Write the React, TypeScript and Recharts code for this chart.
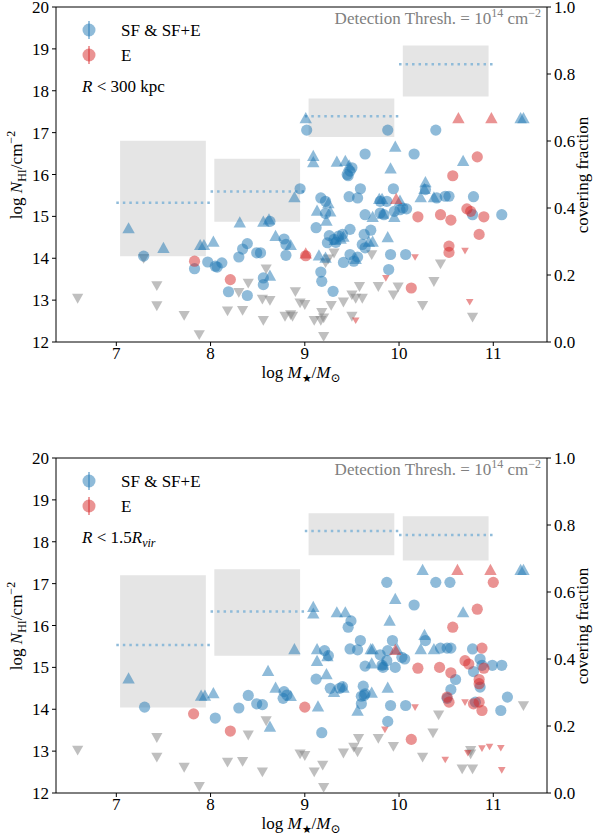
import React from "react";
import { ScatterChart, Scatter, XAxis, YAxis, ReferenceArea, ReferenceLine, Label } from "recharts";

const FONT = '"Liberation Serif", "DejaVu Serif", serif';
const BLUE = "#1f77b4";
const RED = "#d62728";
const GRAY = "#808080";
const DOT_BLUE = "#8fbbd9";

const massTicks = [7, 8, 9, 10, 11];
const nTicks = [12, 13, 14, 15, 16, 17, 18, 19, 20];
const cfTicks = [0, 0.2, 0.4, 0.6, 0.8, 1.0];

// mass bins used for the covering fraction
const binLo = [7, 8, 9, 10];
const binHi = [8, 9, 10, 11];

// top panel: R < 300 kpc
const cfTop = [0.416, 0.449, 0.674, 0.829];
const cfTopLo = [0.256, 0.359, 0.612, 0.733];
const cfTopHi = [0.601, 0.547, 0.727, 0.885];

// bottom panel: R < 1.5 Rvir
const cfBot = [0.442, 0.542, 0.782, 0.770];
const cfBotLo = [0.255, 0.410, 0.710, 0.694];
const cfBotHi = [0.650, 0.668, 0.835, 0.826];

// [log M*, log NHI]
const sfDetTop = [
  [7.29, 14.05], [7.83, 13.75], [7.97, 13.91], [8.05, 13.81], [8.07, 13.79], [8.12, 13.89], [8.19, 13.2],
  [8.39, 13.11], [8.3, 14.03], [8.34, 14.22], [8.39, 14.35], [8.49, 14.13], [8.53, 14.13], [8.63, 14.88],
  [8.56, 13.53], [8.56, 13.37], [8.78, 14.46], [8.8, 14.33], [8.8, 14.07], [8.95, 15.66], [9.02, 17.06],
  [9.88, 17.06], [10.39, 17.06], [9.64, 16.49], [10.16, 16.49], [9.5, 16.16], [9.45, 16.0], [9.46, 15.97],
  [9.48, 16.08], [9.17, 15.44], [9.22, 15.36], [9.12, 14.73], [9.22, 15.07], [9.17, 13.67], [9.18, 13.45],
  [9.3, 13.21], [9.26, 14.54], [9.24, 14.37], [9.31, 14.45], [9.36, 14.53], [9.4, 14.57], [9.33, 14.38],
  [9.48, 14.69], [9.47, 15.47], [9.56, 15.44], [9.59, 15.66], [9.8, 15.36], [9.87, 15.36], [9.94, 15.66],
  [10.04, 15.2], [10.08, 15.18], [9.64, 15.04], [9.8, 15.08], [9.84, 15.04], [9.95, 15.12], [10.01, 15.16],
  [9.63, 14.57], [9.7, 14.67], [9.61, 14.33], [9.64, 14.25], [9.48, 14.09], [9.41, 13.9], [9.52, 13.93],
  [9.56, 14.03], [9.91, 14.09], [10.07, 14.09], [9.89, 13.73], [10.79, 15.47], [11.09, 15.04], [10.78, 15.04],
  [10.53, 15.48], [10.49, 15.48], [10.4, 15.44], [10.28, 15.64],
];
const sfLowTop = [
  [7.13, 14.7], [7.5, 14.23], [7.89, 14.3], [7.93, 14.3], [8.03, 14.38], [8.31, 14.84], [8.56, 14.86],
  [8.62, 14.91], [8.63, 13.57], [8.69, 14.52], [8.85, 14.3], [8.89, 15.44], [9.01, 17.33], [9.15, 14.05],
  [9.13, 15.12], [9.25, 15.3], [9.27, 15.1], [9.23, 14.88], [9.32, 14.42], [9.38, 14.45], [9.41, 14.5],
  [9.79, 15.4], [9.82, 15.4], [10.01, 15.36], [9.72, 14.97], [9.83, 15.05], [9.95, 14.97], [9.68, 14.38],
  [9.72, 14.38], [9.22, 14.0], [9.54, 13.97], [9.88, 14.49], [10.28, 15.8], [10.27, 15.64], [10.23, 15.44],
  [10.37, 15.44], [11.29, 17.33], [11.32, 17.33], [9.09, 16.43], [9.09, 16.28], [9.96, 16.65], [9.34, 16.29],
  [9.43, 16.31], [9.47, 16.2], [9.91, 16.13], [10.68, 16.31],
];
const sfUpTop = [
  [6.59, 13.05], [7.29, 14.0], [7.43, 13.35], [7.43, 12.87], [7.72, 12.64], [7.88, 12.18], [8.18, 12.75],
  [8.34, 12.76], [8.4, 13.41], [8.3, 13.19], [8.59, 13.75], [8.55, 13.03], [8.63, 13.0], [8.56, 12.52],
  [8.9, 13.21], [8.95, 12.94], [8.79, 12.62], [8.85, 12.66], [8.87, 12.62], [9.22, 13.9], [9.18, 12.71],
  [9.2, 12.58], [9.1, 12.52], [9.2, 12.14], [9.31, 14.13], [9.25, 13.99], [9.71, 14.09], [10.44, 13.87],
  [10.37, 13.45], [10.78, 12.6], [10.25, 12.88], [9.99, 13.32], [9.94, 13.13], [9.78, 13.33], [9.58, 13.33],
  [9.5, 13.13], [9.54, 13.05], [9.61, 13.05], [9.41, 12.96], [9.28, 12.88], [9.5, 12.62], [9.0, 12.9],
  [9.17, 12.52],
];
const eDetTop = [
  [7.83, 13.93], [8.21, 13.49], [9.01, 14.06], [10.57, 15.97], [10.83, 16.42], [10.2, 14.99], [10.44, 15.04],
  [10.55, 14.91], [10.72, 15.18], [10.76, 15.12], [10.9, 14.99], [10.85, 14.57], [10.53, 14.29],
  [10.53, 14.14], [10.13, 13.29],
];
const eLowTop = [[9.01, 14.1], [9.97, 15.4], [10.63, 17.33], [10.98, 17.33]];
const eUpTop = [[10.17, 14.03], [9.86, 13.53], [10.7, 14.18], [10.75, 12.96], [9.54, 12.52]];

const sfDetBot = [
  [9.21, 15.4], [9.12, 14.72], [9.27, 14.5], [7.3, 14.05], [8.05, 13.79], [8.3, 14.03], [8.4, 14.33],
  [8.49, 14.13], [8.55, 14.11], [8.78, 14.42], [8.77, 14.26], [8.81, 14.34], [9.18, 13.44], [10.16, 16.49],
  [9.49, 16.11], [9.46, 15.96], [10.28, 15.64], [9.48, 15.44], [9.56, 15.42], [9.59, 15.64], [9.25, 15.28],
  [9.93, 15.64], [9.8, 15.3], [9.88, 15.4], [10.06, 15.2], [10.03, 15.24], [10.44, 15.46], [10.51, 15.46],
  [10.55, 15.46], [9.64, 15.03], [9.82, 15.05], [9.83, 15.0], [9.96, 15.0], [9.87, 15.16], [10.78, 15.44],
  [10.86, 15.2], [10.88, 15.05], [10.99, 15.05], [11.09, 15.05], [10.79, 14.9], [10.6, 14.71], [10.55, 14.47],
  [10.51, 14.26], [10.86, 14.53], [10.81, 14.17], [11.15, 14.29], [11.08, 13.97], [9.37, 14.5], [9.4, 14.54],
  [9.62, 14.55], [9.6, 14.31], [9.6, 14.13], [9.64, 14.37], [9.63, 14.33], [9.91, 14.09], [10.07, 14.09],
  [9.88, 13.71], [9.87, 17.03], [10.39, 17.03], [10.54, 17.03],
];
const sfLowBot = [
  [9.09, 16.43], [9.09, 16.27], [8.89, 15.42], [9.13, 15.42], [9.24, 15.25], [9.13, 15.14], [9.23, 14.82],
  [7.13, 14.72], [7.9, 14.31], [7.94, 14.31], [8.03, 14.37], [8.61, 14.9], [8.69, 14.5], [8.85, 14.3],
  [9.14, 14.05], [8.63, 13.57], [9.96, 16.62], [9.34, 16.3], [9.43, 16.3], [9.9, 16.1], [10.68, 16.3],
  [10.27, 15.76], [9.7, 15.42], [9.72, 15.42], [9.98, 15.42], [10.23, 15.42], [10.37, 15.42], [9.71, 15.08],
  [9.83, 15.05], [9.31, 14.4], [9.41, 14.5], [9.71, 14.38], [9.56, 13.95], [9.88, 14.5], [10.25, 17.31],
  [11.29, 17.31], [11.32, 17.31],
];
const sfUpBot = [
  [6.59, 13.03], [7.43, 13.33], [7.43, 12.86], [7.72, 12.62], [7.88, 12.16], [8.18, 12.74], [8.34, 12.76],
  [8.4, 13.39], [8.59, 13.73], [8.55, 12.51], [8.95, 12.94], [9.1, 12.51], [9.19, 12.67], [9.2, 12.14],
  [11.32, 14.09], [10.42, 13.87], [10.36, 13.44], [9.57, 13.31], [9.78, 13.31], [9.94, 13.12], [9.41, 12.96],
  [9.52, 13.1], [9.56, 12.99], [10.25, 12.86], [10.76, 13.02], [10.76, 12.94], [10.67, 12.58], [10.78, 12.58],
  [9.0, 12.9],
];
const eDetBot = [
  [7.82, 13.89], [8.21, 13.48], [9.0, 14.05], [10.83, 16.39], [10.57, 15.96], [10.88, 15.46], [10.7, 15.16],
  [10.74, 15.08], [10.9, 14.98], [10.2, 14.98], [10.43, 15.0], [10.55, 14.87], [10.51, 14.29], [10.53, 14.17],
  [10.85, 14.71], [10.85, 14.61], [10.79, 14.13], [10.88, 13.97], [10.85, 14.17], [10.13, 13.28], [11.0, 17.03],
];
const eLowBot = [[9.96, 15.4], [10.62, 17.31], [10.97, 17.31]];
const eUpBot = [
  [10.17, 14.05], [9.85, 13.52], [10.7, 14.17], [10.49, 12.8], [10.73, 12.96], [10.88, 13.07], [10.96, 13.11],
  [11.08, 13.08], [11.09, 12.55],
];

const toPts = (arr: number[][]) => arr.map(([x, y]) => ({ x, y }));

const circleShape = (color: string) => (p: any) =>
  p.cx == null ? <g /> : <circle cx={p.cx} cy={p.cy} r={5.6} fill={color} fillOpacity={0.5} />;

const upShape = (color: string) => (p: any) =>
  p.cx == null ? <g /> : (
    <polygon
      points={`${p.cx},${p.cy - 6.8} ${p.cx - 6.2},${p.cy + 4.4} ${p.cx + 6.2},${p.cy + 4.4}`}
      fill={color}
      fillOpacity={0.5}
    />
  );

const downShape = (color: string, s: number) => (p: any) =>
  p.cx == null ? <g /> : (
    <polygon
      points={`${p.cx - s},${p.cy - s * 0.75} ${p.cx + s},${p.cy - s * 0.75} ${p.cx},${p.cy + s}`}
      fill={color}
      fillOpacity={0.5}
    />
  );

const tickStyle = { fontSize: 17, fill: "#000", fontFamily: FONT };

// the chart svg starts PAD px above the panel so the top tick labels are not clipped
const PAD = 10;

function XTitle() {
  return (
    <text x={301} y={378 + PAD} textAnchor="middle" fontSize={17} fontFamily={FONT} fill="#000">
      log <tspan fontStyle="italic">M</tspan>
      <tspan fontSize={11} dy={4}>★</tspan>
      <tspan dy={-4}>/</tspan>
      <tspan fontStyle="italic">M</tspan>
      <tspan fontSize={12} dy={4}>⊙</tspan>
    </text>
  );
}

function YTitle() {
  const cy = 175 + PAD;
  return (
    <text x={22} y={cy} transform={`rotate(-90, 22, ${cy})`} textAnchor="middle" fontSize={17} fontFamily={FONT} fill="#000">
      log <tspan fontStyle="italic">N</tspan>
      <tspan fontSize={12} dy={4}>HI</tspan>
      <tspan dy={-4}>/cm</tspan>
      <tspan fontSize={12} dy={-7}>−2</tspan>
    </text>
  );
}

function CfTitle() {
  const cy = 175 + PAD;
  return (
    <text x={588} y={cy} transform={`rotate(-90, 588, ${cy})`} textAnchor="middle" fontSize={17} fontFamily={FONT} fill="#000">
      covering fraction
    </text>
  );
}

interface PanelProps {
  top: number;
  sfDet: number[][];
  sfLow: number[][];
  sfUp: number[][];
  eDet: number[][];
  eLow: number[][];
  eUp: number[][];
  cf: number[];
  lo: number[];
  hi: number[];
  region: React.ReactNode;
}

function Panel({ top, sfDet, sfLow, sfUp, eDet, eLow, eUp, cf, lo, hi, region }: PanelProps) {
  return (
    <div style={{ position: "absolute", left: 0, top: top - PAD, width: 595, height: 400 + PAD }}>
      <ScatterChart width={595} height={400 + PAD} margin={{ top: 7 + PAD, right: 8, bottom: 18, left: 16 }}>
        <XAxis
          type="number"
          dataKey="x"
          domain={[6.36, 11.57]}
          ticks={massTicks}
          allowDataOverflow
          height={40}
          tick={tickStyle}
          tickSize={4}
          tickMargin={1}
          axisLine={{ stroke: "#000" }}
          tickLine={{ stroke: "#000" }}
        >
          <Label content={() => <XTitle />} />
        </XAxis>
        <YAxis
          yAxisId="n"
          type="number"
          dataKey="y"
          domain={[12, 20]}
          ticks={nTicks}
          allowDataOverflow
          width={40}
          tick={tickStyle}
          tickSize={4}
          tickMargin={3}
          axisLine={{ stroke: "#000" }}
          tickLine={{ stroke: "#000" }}
          interval={0}
        >
          <Label content={() => <YTitle />} />
        </YAxis>
        <YAxis
          yAxisId="cf"
          orientation="right"
          type="number"
          domain={[0, 1]}
          ticks={cfTicks}
          allowDataOverflow
          width={40}
          tick={tickStyle}
          tickSize={4}
          tickMargin={3}
          tickFormatter={(v: number) => v.toFixed(1)}
          axisLine={{ stroke: "#000" }}
          tickLine={{ stroke: "#000" }}
          interval={0}
        >
          <Label content={() => <CfTitle />} />
        </YAxis>
        {binLo.map((b, i) => (
          <ReferenceArea
            key={`box-${i}`}
            yAxisId="cf"
            x1={b + 0.04}
            x2={binHi[i] - 0.05}
            y1={lo[i]}
            y2={hi[i]}
            fill="#e5e5e5"
            fillOpacity={1}
            stroke="none"
          />
        ))}
        {binLo.map((b, i) => (
          <ReferenceLine
            key={`cf-${i}`}
            yAxisId="cf"
            segment={[{ x: b, y: cf[i] }, { x: binHi[i], y: cf[i] }]}
            stroke={DOT_BLUE}
            strokeWidth={2.5}
            strokeDasharray="2.5 4"
          />
        ))}
        <ReferenceLine yAxisId="n" y={20} stroke="#000" />
        <Scatter yAxisId="n" data={toPts(sfUp)} shape={downShape(GRAY, 5.6)} isAnimationActive={false} />
        <Scatter yAxisId="n" data={toPts(eUp)} shape={downShape(RED, 3.8)} isAnimationActive={false} />
        <Scatter yAxisId="n" data={toPts(sfDet)} shape={circleShape(BLUE)} isAnimationActive={false} />
        <Scatter yAxisId="n" data={toPts(sfLow)} shape={upShape(BLUE)} isAnimationActive={false} />
        <Scatter yAxisId="n" data={toPts(eDet)} shape={circleShape(RED)} isAnimationActive={false} />
        <Scatter yAxisId="n" data={toPts(eLow)} shape={upShape(RED)} isAnimationActive={false} />
      </ScatterChart>
      <svg
        width={595}
        height={400}
        style={{ position: "absolute", left: 0, top: PAD, pointerEvents: "none" }}
        fontFamily={FONT}
      >
        <circle cx={89} cy={30} r={6.5} fill={BLUE} fillOpacity={0.5} />
        <line x1={89} x2={89} y1={21} y2={39} stroke={BLUE} strokeOpacity={0.6} strokeWidth={1.5} />
        <text x={121} y={36} fontSize={17} fill="#000">SF &amp; SF+E</text>
        <circle cx={89} cy={55} r={6.5} fill={RED} fillOpacity={0.5} />
        <line x1={89} x2={89} y1={46} y2={64} stroke={RED} strokeOpacity={0.6} strokeWidth={1.5} />
        <text x={121} y={61} fontSize={17} fill="#000">E</text>
        <text x={82} y={92} fontSize={17} fill="#000">{region}</text>
        <text x={541} y={24} fontSize={17} fill={GRAY} textAnchor="end">
          Detection Thresh. = 10<tspan fontSize={12} dy={-7}>14</tspan>
          <tspan dy={7}> cm</tspan>
          <tspan fontSize={12} dy={-7}>−2</tspan>
        </text>
      </svg>
    </div>
  );
}

export default function App() {
  return (
    <div style={{ position: "absolute", left: 0, top: 0, width: 595, height: 838, background: "#fff", fontFamily: FONT, overflow: "hidden" }}>
      <Panel
        top={0}
        sfDet={sfDetTop}
        sfLow={sfLowTop}
        sfUp={sfUpTop}
        eDet={eDetTop}
        eLow={eLowTop}
        eUp={eUpTop}
        cf={cfTop}
        lo={cfTopLo}
        hi={cfTopHi}
        region={
          <>
            <tspan fontStyle="italic">R</tspan> &lt; 300 kpc
          </>
        }
      />
      <Panel
        top={451}
        sfDet={sfDetBot}
        sfLow={sfLowBot}
        sfUp={sfUpBot}
        eDet={eDetBot}
        eLow={eLowBot}
        eUp={eUpBot}
        cf={cfBot}
        lo={cfBotLo}
        hi={cfBotHi}
        region={
          <>
            <tspan fontStyle="italic">R</tspan> &lt; 1.5<tspan fontStyle="italic">R</tspan>
            <tspan fontStyle="italic" fontSize={12} dy={4}>vir</tspan>
          </>
        }
      />
    </div>
  );
}
